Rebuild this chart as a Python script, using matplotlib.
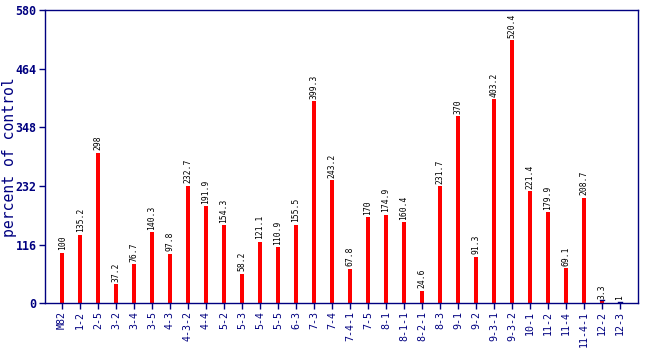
import matplotlib
matplotlib.use("Agg")
import matplotlib.pyplot as plt

categories = ["M82", "1-2", "2-5", "3-2", "3-4", "3-5", "4-3", "4-3-2", "4-4", "5-2",
              "5-3", "5-4", "5-5", "6-3", "7-3", "7-4", "7-4-1", "7-5", "8-1", "8-1-1",
              "8-2-1", "8-3", "9-1", "9-2", "9-3-1", "9-3-2", "10-1", "11-2", "11-4",
              "11-4-1", "12-2", "12-3"]
values = [100, 135.2, 298, 37.2, 76.7, 140.3, 97.8, 232.7, 191.9, 154.3,
          58.2, 121.1, 110.9, 155.5, 399.3, 243.2, 67.8, 170, 174.9, 160.4,
          24.6, 231.7, 370, 91.3, 403.2, 520.4, 221.4, 179.9, 69.1,
          208.7, 3.3, 1]
value_labels = ["100", "135.2", "298", "37.2", "76.7", "140.3", "97.8", "232.7", "191.9", "154.3",
                "58.2", "121.1", "110.9", "155.5", "399.3", "243.2", "67.8", "170", "174.9", "160.4",
                "24.6", "231.7", "370", "91.3", "403.2", "520.4", "221.4", "179.9", "69.1",
                "208.7", "3.3", "1"]
yticks = [0, 116, 232, 348, 464, 580]

navy = "#000080"
mono = "DejaVu Sans Mono"

fig = plt.figure(figsize=(6.5, 3.5), dpi=100)
ax = fig.add_axes([0.0692, 0.134, 0.9123, 0.837])

x = list(range(len(categories)))
ax.bar(x, values, width=0.22, color="#ff0000", zorder=2)

for xi, v, lab in zip(x, values, value_labels):
    ax.text(xi, v + 5, lab, rotation=90, ha="center", va="bottom",
            fontsize=5.8, family=mono, color="black")
    if v < 10:
        ax.plot([xi - 0.12, xi + 0.12], [v + 2, v + 2], color=navy, lw=1, zorder=3)

ax.set_xlim(-0.95, 32)
ax.set_ylim(0, 580)
ax.set_yticks(yticks)
ax.set_yticklabels([str(t) for t in yticks], family=mono, fontweight="bold",
                   fontsize=8.4, color=navy)
ax.set_xticks(x)
ax.set_xticklabels(categories, rotation=90, family=mono, fontsize=7.2, color=navy)
ax.tick_params(axis="both", colors=navy, length=4, width=1)
ax.tick_params(axis="x", pad=2)
ax.tick_params(axis="y", pad=2)
for s in ax.spines.values():
    s.set_color(navy)
    s.set_linewidth(1)

ax.set_ylabel("percent of control", family=mono, fontsize=10.6, color=navy)
ax.yaxis.set_label_coords(-0.048, 0.5)

fig.savefig("out.png", dpi=100)
